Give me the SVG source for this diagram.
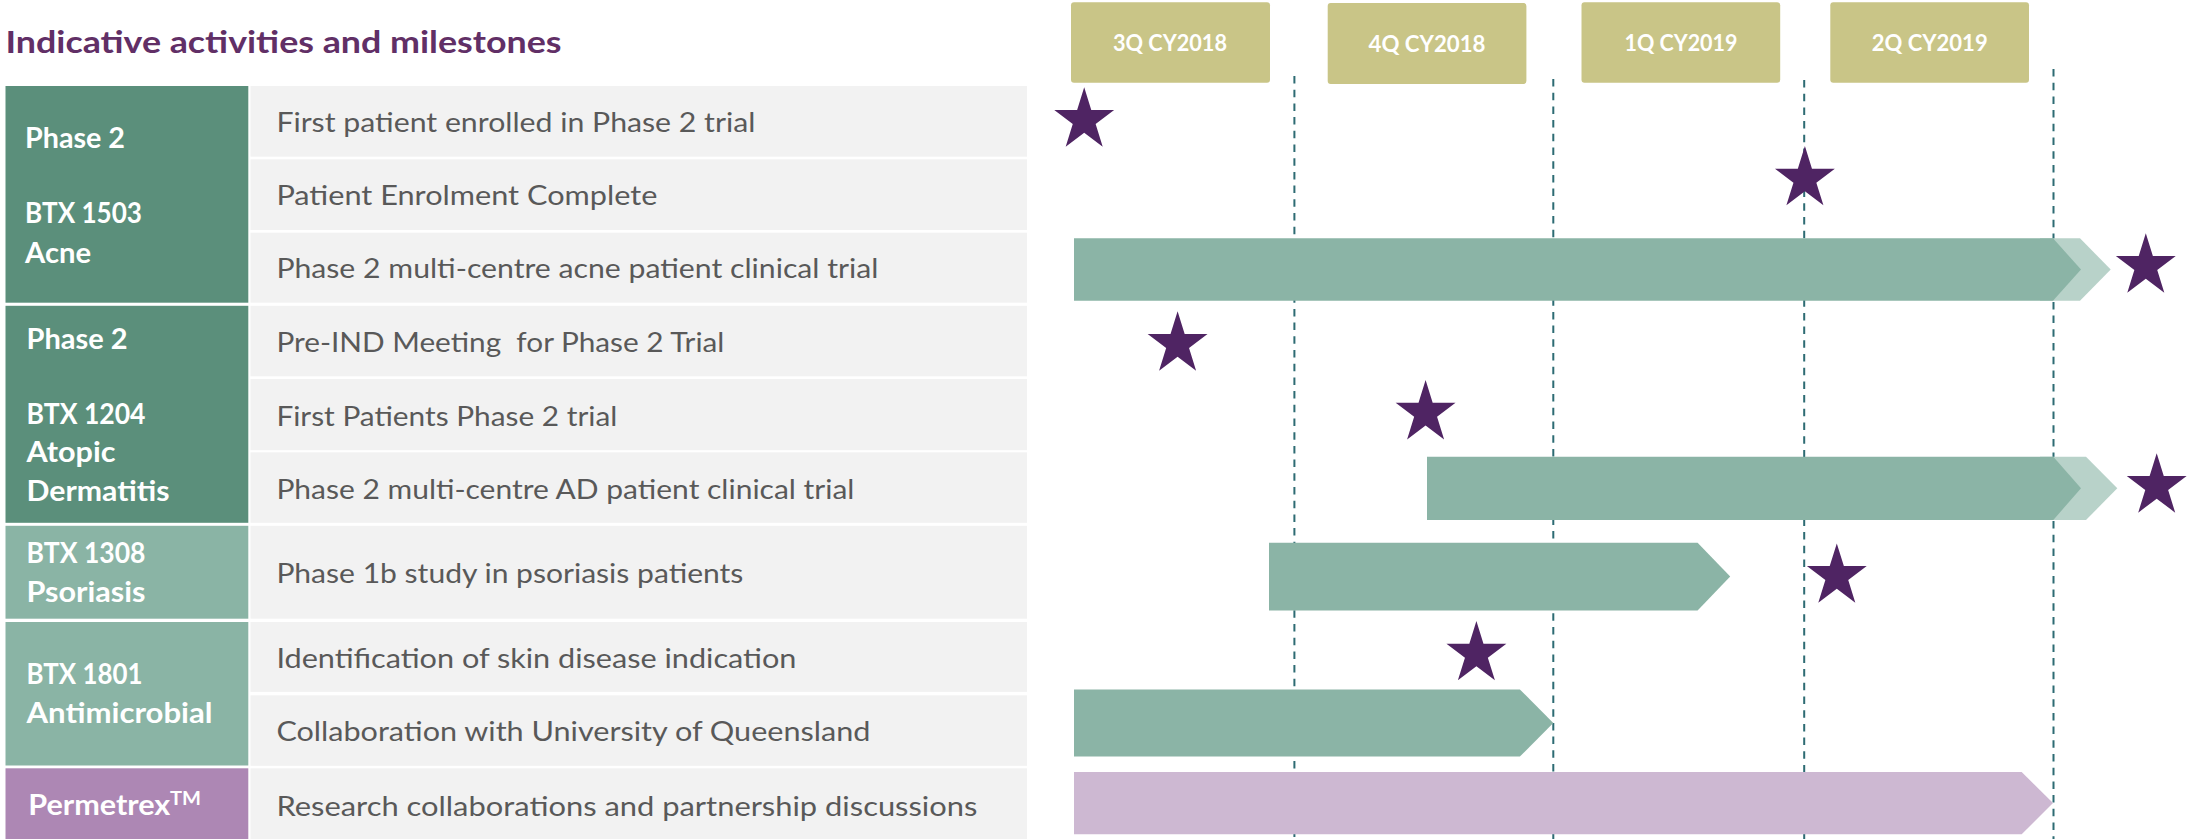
<svg xmlns="http://www.w3.org/2000/svg" width="2187" height="839" viewBox="0 0 2187 839">
<style>
  text { font-family: Lato, "Liberation Sans", "DejaVu Sans", sans-serif; }
  .title { font-size: 31px; font-weight: 700; fill: #612F66; }
  .lbl { font-size: 29px; font-weight: 700; fill: #FFFFFF; }
  .tm { font-size: 19px; font-weight: 700; fill: #FFFFFF; }
  .act { font-size: 27px; fill: #595959; }
  .qtr { font-size: 22px; font-weight: 700; fill: #FFFFFF; text-anchor: middle; }
  .g-dark { fill: #5B8F7B; }
  .g-light { fill: #8AB4A5; }
  .g-purple { fill: #AD87B4; }
  .row { fill: #F2F2F2; }
  .qbox { fill: #C9C587; }
  .bar { fill: #8BB4A6; }
  .bar-ext { fill: #B8D2C9; }
  .bar-purple { fill: #CDB8D2; }
  .grid { stroke: #2D6B73; stroke-width: 2; stroke-dasharray: 7.5 6.2; fill: none; }
  .star { fill: #4F2463; }
</style>
<defs>
  <path id="star" d="M0,-32.8 L7.07,-10.14 L29.94,-10.14 L11.44,3.87 L18.51,26.54 L0,12.53 L-18.51,26.54 L-11.44,3.87 L-29.94,-10.14 L-7.07,-10.14 Z"/>
</defs>

<rect width="2187" height="839" fill="#FFFFFF"/>

<text class="title" x="5.5" y="53.3" textLength="556" lengthAdjust="spacingAndGlyphs">Indicative activities and milestones</text>

<!-- Quarter headers -->
<g id="q-3Q2018"><rect class="qbox" x="1071" y="2.3" width="199" height="80.4" rx="3"/><text class="qtr" x="1170" y="50.7" textLength="114" lengthAdjust="spacingAndGlyphs">3Q CY2018</text></g>
<g id="q-4Q2018"><rect class="qbox" x="1327.7" y="3" width="198.7" height="81" rx="3"/><text class="qtr" x="1427" y="51.7" textLength="117" lengthAdjust="spacingAndGlyphs">4Q CY2018</text></g>
<g id="q-1Q2019"><rect class="qbox" x="1581.5" y="2.3" width="198.7" height="80.4" rx="3"/><text class="qtr" x="1681" y="50.7" textLength="113" lengthAdjust="spacingAndGlyphs">1Q CY2019</text></g>
<g id="q-2Q2019"><rect class="qbox" x="1830.3" y="2.3" width="198.7" height="80.4" rx="3"/><text class="qtr" x="1929.7" y="50.7" textLength="116" lengthAdjust="spacingAndGlyphs">2Q CY2019</text></g>

<!-- Program groups (left column) -->
<g id="grp-btx1503">
  <rect class="g-dark" x="5.5" y="86" width="242.8" height="216.7"/>
  <text class="lbl" x="25" y="148.3" textLength="100" lengthAdjust="spacingAndGlyphs">Phase 2</text>
  <text class="lbl" x="25" y="223" textLength="117" lengthAdjust="spacingAndGlyphs">BTX 1503</text>
  <text class="lbl" x="25" y="262.7" textLength="66" lengthAdjust="spacingAndGlyphs">Acne</text>
</g>
<g id="grp-btx1204">
  <rect class="g-dark" x="5.5" y="305.8" width="242.8" height="217"/>
  <text class="lbl" x="26.5" y="349.2" textLength="101" lengthAdjust="spacingAndGlyphs">Phase 2</text>
  <text class="lbl" x="26.5" y="423.8" textLength="119" lengthAdjust="spacingAndGlyphs">BTX 1204</text>
  <text class="lbl" x="26.5" y="461.6" textLength="89" lengthAdjust="spacingAndGlyphs">Atopic</text>
  <text class="lbl" x="26.5" y="501" textLength="143" lengthAdjust="spacingAndGlyphs">Dermatitis</text>
</g>
<g id="grp-btx1308">
  <rect class="g-light" x="5.5" y="525.8" width="242.8" height="92.9"/>
  <text class="lbl" x="26.5" y="563" textLength="119" lengthAdjust="spacingAndGlyphs">BTX 1308</text>
  <text class="lbl" x="26.5" y="601.8" textLength="119" lengthAdjust="spacingAndGlyphs">Psoriasis</text>
</g>
<g id="grp-btx1801">
  <rect class="g-light" x="5.5" y="622" width="242.8" height="143.5"/>
  <text class="lbl" x="26.5" y="684.3" textLength="116" lengthAdjust="spacingAndGlyphs">BTX 1801</text>
  <text class="lbl" x="26.5" y="722.8" textLength="186" lengthAdjust="spacingAndGlyphs">Antimicrobial</text>
</g>
<g id="grp-permetrex">
  <rect class="g-purple" x="5.5" y="768.3" width="242.8" height="70.7"/>
  <text class="lbl" x="28.3" y="815" textLength="142" lengthAdjust="spacingAndGlyphs">Permetrex</text>
  <text class="tm" x="170" y="805" textLength="31" lengthAdjust="spacingAndGlyphs">TM</text>
</g>

<!-- Activity rows -->
<g id="row-1"><rect class="row" x="250.5" y="86" width="776.5" height="70.7"/><text class="act" x="276.4" y="132" textLength="479" lengthAdjust="spacingAndGlyphs">First patient enrolled in Phase 2 trial</text></g>
<g id="row-2"><rect class="row" x="250.5" y="159.3" width="776.5" height="70.7"/><text class="act" x="276.4" y="205" textLength="381" lengthAdjust="spacingAndGlyphs">Patient Enrolment Complete</text></g>
<g id="row-3"><rect class="row" x="250.5" y="232.7" width="776.5" height="70"/><text class="act" x="276.4" y="278.3" textLength="602" lengthAdjust="spacingAndGlyphs">Phase 2 multi-centre acne patient clinical trial</text></g>
<g id="row-4"><rect class="row" x="250.5" y="305.8" width="776.5" height="70.5"/><text class="act" x="276.4" y="352.3" textLength="448" lengthAdjust="spacingAndGlyphs" style="white-space:pre" xml:space="preserve">Pre-IND Meeting  for Phase 2 Trial</text></g>
<g id="row-5"><rect class="row" x="250.5" y="379" width="776.5" height="71.2"/><text class="act" x="276.4" y="425.5" textLength="341" lengthAdjust="spacingAndGlyphs">First Patients Phase 2 trial</text></g>
<g id="row-6"><rect class="row" x="250.5" y="452.3" width="776.5" height="70.5"/><text class="act" x="276.4" y="498.7" textLength="578" lengthAdjust="spacingAndGlyphs">Phase 2 multi-centre AD patient clinical trial</text></g>
<g id="row-7"><rect class="row" x="250.5" y="525.8" width="776.5" height="92.9"/><text class="act" x="276.4" y="582.6" textLength="467" lengthAdjust="spacingAndGlyphs">Phase 1b study in psoriasis patients</text></g>
<g id="row-8"><rect class="row" x="250.5" y="622" width="776.5" height="69.9"/><text class="act" x="276.4" y="667.8" textLength="520" lengthAdjust="spacingAndGlyphs">Identification of skin disease indication</text></g>
<g id="row-9"><rect class="row" x="250.5" y="695.3" width="776.5" height="70.5"/><text class="act" x="276.4" y="741" textLength="594" lengthAdjust="spacingAndGlyphs">Collaboration with University of Queensland</text></g>
<g id="row-10"><rect class="row" x="250.5" y="768.3" width="776.5" height="70.7"/><text class="act" x="276.4" y="815.6" textLength="701" lengthAdjust="spacingAndGlyphs">Research collaborations and partnership discussions</text></g>

<!-- Quarter divider lines -->
<g id="connectors">
  <line class="grid" x1="1294.4" y1="76" x2="1294.4" y2="839"/>
  <line class="grid" x1="1553.3" y1="79" x2="1553.3" y2="839"/>
  <line class="grid" x1="1804.2" y1="80" x2="1804.2" y2="839"/>
  <line class="grid" x1="2053.5" y1="69" x2="2053.5" y2="839"/>
</g>

<!-- Timeline bars -->
<g id="bar-acne">
  <polygon class="bar-ext" points="2040,238.3 2080,238.3 2110.7,269.5 2080,300.7 2040,300.7"/>
  <polygon class="bar" points="1074,238.3 2053,238.3 2081,269.5 2053,300.7 1074,300.7"/>
</g>
<g id="bar-ad">
  <polygon class="bar-ext" points="2040,456.7 2086,456.7 2117.3,488.3 2086,520 2040,520"/>
  <polygon class="bar" points="1427,456.7 2053.3,456.7 2081,488.3 2053.3,520 1427,520"/>
</g>
<g id="bar-psoriasis">
  <polygon class="bar" points="1269,542.7 1697.6,542.7 1730.2,576.5 1697.6,610.4 1269,610.4"/>
</g>
<g id="bar-antimicrobial">
  <polygon class="bar" points="1074,689.5 1519.9,689.5 1553.3,723 1519.9,756.5 1074,756.5"/>
</g>
<g id="bar-permetrex">
  <polygon class="bar-purple" points="1074,772 2021.7,772 2053,803 2021.7,834.3 1074,834.3"/>
</g>

<!-- Milestones -->
<g id="milestones">
  <use href="#star" class="star" x="1084.2" y="120.1"/>
  <use href="#star" class="star" x="1804.9" y="178.8"/>
  <use href="#star" class="star" x="2145.8" y="266.1"/>
  <use href="#star" class="star" x="1177.6" y="344.1"/>
  <use href="#star" class="star" x="1425.6" y="412.9"/>
  <use href="#star" class="star" x="2156.7" y="486.1"/>
  <use href="#star" class="star" x="1836.8" y="576.2"/>
  <use href="#star" class="star" x="1476.4" y="653.8"/>
</g>
</svg>
